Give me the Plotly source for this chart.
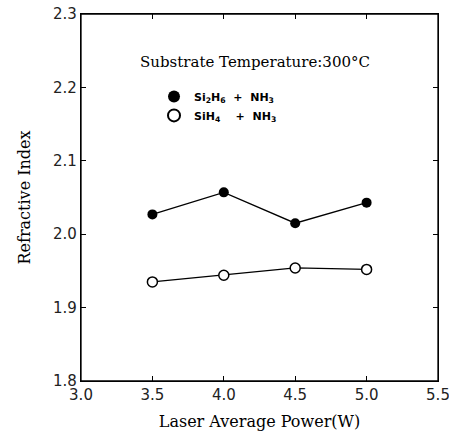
import plotly.graph_objects as go

power = [3.5, 4.0, 4.5, 5.0]
si2h6_nh3 = [2.027, 2.057, 2.015, 2.043]
sih4_nh3 = [1.935, 1.944, 1.954, 1.952]
x_ticks = [3.0, 3.5, 4.0, 4.5, 5.0, 5.5]
y_ticks = [1.8, 1.9, 2.0, 2.1, 2.2, 2.3]

name1 = "<b>Si<sub>2</sub>H<sub>6</sub>  +  NH<sub>3</sub></b>"
name2 = "<b>SiH<sub>4</sub>    +  NH<sub>3</sub></b>"

fig = go.Figure()
fig.add_trace(go.Scatter(x=power, y=si2h6_nh3, mode="lines+markers",
                         line=dict(color="black", width=1.3),
                         marker=dict(symbol="circle", size=10, color="black"),
                         showlegend=False))
fig.add_trace(go.Scatter(x=power, y=sih4_nh3, mode="lines+markers",
                         line=dict(color="black", width=1.3),
                         marker=dict(symbol="circle", size=10, color="white",
                                     line=dict(color="black", width=1.5)),
                         showlegend=False))
# legend-only entries (markers only)
fig.add_trace(go.Scatter(x=[None], y=[None], mode="markers", name=name1,
                         marker=dict(symbol="circle", size=11, color="black")))
fig.add_trace(go.Scatter(x=[None], y=[None], mode="markers", name=name2,
                         marker=dict(symbol="circle", size=11, color="white",
                                     line=dict(color="black", width=1.5))))

axis_common = dict(showline=True, linecolor="black", linewidth=1.3, mirror="ticks",
                   ticks="inside", ticklen=5, tickcolor="black", tickwidth=1,
                   showgrid=False, zeroline=False, automargin=False,
                   ticklabeloverflow="allow",
                   tickfont=dict(family="DejaVu Sans", size=15, color="#222"))

fig.update_xaxes(range=[3.0, 5.5], tickvals=x_ticks,
                 ticktext=[f"{v:.1f}" for v in x_ticks],
                 title=dict(text="Laser Average Power(W)", standoff=12,
                            font=dict(family="DejaVu Serif", size=16, color="black")),
                 **axis_common)
fig.update_yaxes(range=[1.8, 2.3], tickvals=y_ticks,
                 ticktext=[f"{v:.1f}" for v in y_ticks],
                 title=dict(text="Refractive Index", standoff=18,
                            font=dict(family="DejaVu Serif", size=16, color="black")),
                 **axis_common)

# plot frame
fig.add_shape(type="rect", xref="paper", yref="paper", x0=0, y0=0, x1=1, y1=1,
              line=dict(color="black", width=1.3), layer="above")

fig.add_annotation(text="Substrate Temperature:300°C", xref="paper", yref="paper",
                   x=0.487, y=(381 - 62) / 367, yanchor="middle", showarrow=False,
                   font=dict(family="DejaVu Serif", size=15, color="black"))

fig.update_layout(
    width=449, height=438,
    margin=dict(l=81, r=11, t=14, b=57),
    plot_bgcolor="white", paper_bgcolor="white",
    legend=dict(x=0.2045, y=0.815, xanchor="left", yanchor="top",
                bgcolor="rgba(0,0,0,0)", tracegroupgap=0, itemsizing="constant",
                font=dict(family="DejaVu Sans", size=11, color="black")),
)

fig.write_html("out.html", config={"displayModeBar": False},
               post_script="document.body.style.margin='0';document.body.style.overflow='hidden';")
